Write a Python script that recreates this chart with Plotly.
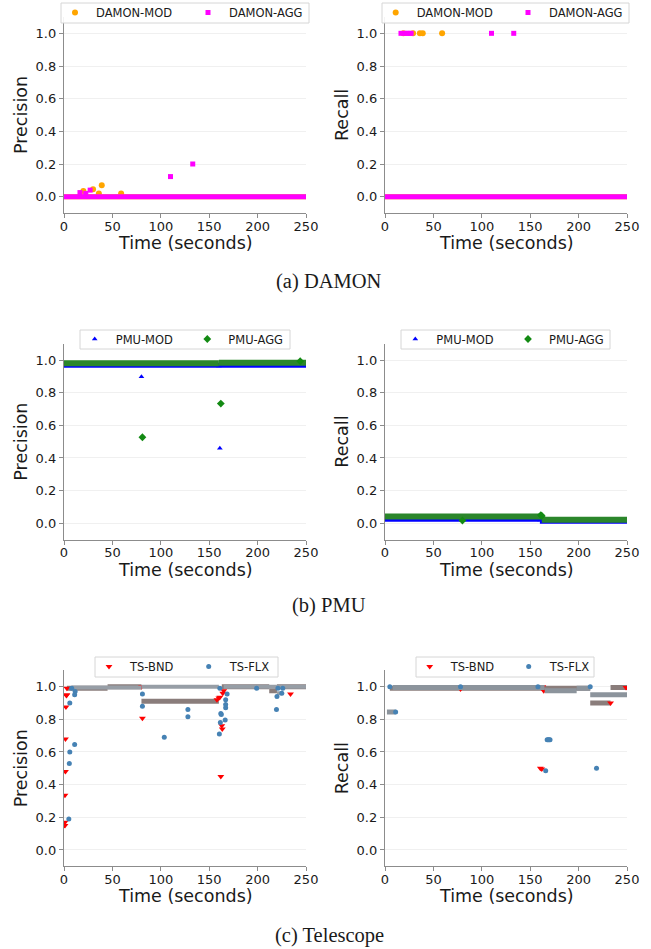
import plotly.graph_objects as go

# ---------------- DATA ----------------
# Dense runs are stored as (start, end, value) triples; isolated points as (t, v) lists.

# (a) DAMON - Precision
damon_mod_prec_run_start = [0]
damon_mod_prec_run_end = [250]
damon_mod_prec_run_val = [0.0]
damon_mod_prec_t = [20, 30, 36, 39, 59]
damon_mod_prec_v = [0.035, 0.045, 0.02, 0.07, 0.02]
damon_agg_prec_run_start = [0]
damon_agg_prec_run_end = [250]
damon_agg_prec_run_val = [0.0]
damon_agg_prec_t = [16.5, 22.5, 27, 110, 133]
damon_agg_prec_v = [0.025, 0.02, 0.04, 0.123, 0.2]

# (a) DAMON - Recall
damon_mod_rec_run_start = [0]
damon_mod_rec_run_end = [250]
damon_mod_rec_run_val = [0.0]
damon_mod_rec_t = [19, 29, 36, 39, 59]
damon_mod_rec_v = [1.0, 1.0, 1.0, 1.0, 1.0]
damon_agg_rec_run_start = [0]
damon_agg_rec_run_end = [250]
damon_agg_rec_run_val = [0.0]
damon_agg_rec_t = [16.5, 20, 22.5, 25, 27, 110, 133]
damon_agg_rec_v = [1.0, 1.0, 1.0, 1.0, 1.0, 1.0, 1.0]

# (b) PMU - Precision
pmu_mod_prec_run_start = [0]
pmu_mod_prec_run_end = [250]
pmu_mod_prec_run_val = [0.968]
pmu_mod_prec_t = [52, 80, 150, 160, 161, 249]
pmu_mod_prec_v = [0.965, 0.898, 0.965, 0.963, 0.459, 0.965]
pmu_agg_prec_run_start = [0, 160]
pmu_agg_prec_run_end = [160, 250]
pmu_agg_prec_run_val = [0.98, 0.984]
pmu_agg_prec_t = [81, 162, 244]
pmu_agg_prec_v = [0.527, 0.733, 0.993]

# (b) PMU - Recall
pmu_mod_rec_run_start = [0, 160]
pmu_mod_rec_run_end = [160, 250]
pmu_mod_rec_run_val = [0.025, 0.012]
pmu_mod_rec_t = [80, 160]
pmu_mod_rec_v = [0.015, 0.02]
pmu_agg_rec_run_start = [0, 162]
pmu_agg_rec_run_end = [162, 250]
pmu_agg_rec_run_val = [0.041, 0.021]
pmu_agg_rec_t = [80, 161, 162]
pmu_agg_rec_v = [0.017, 0.05, 0.045]

# (c) Telescope - Precision
ts_bnd_prec_run_start = [3, 45, 80, 163, 212, 220]
ts_bnd_prec_run_end = [45, 80, 160, 212, 220, 250]
ts_bnd_prec_run_val = [0.99, 1.0, 0.91, 1.0, 0.975, 1.0]
ts_bnd_prec_t = [1, 1, 1, 1.5, 1.5, 2, 2.5, 3, 3, 80, 81, 158, 160, 161, 162,
                 163, 163.5, 164, 165, 234]
ts_bnd_prec_v = [0.15, 0.17, 0.335, 0.48, 0.68, 0.875, 0.945, 0.95, 0.99, 1.0,
                 0.806, 0.92, 0.93, 0.935, 0.45, 0.76, 0.74, 0.96, 0.975, 0.955]
ts_flx_prec_run_start = [8, 80, 165, 220]
ts_flx_prec_run_end = [80, 160, 250, 226]
ts_flx_prec_run_val = [0.995, 1.0, 1.0, 0.96]
ts_flx_prec_t = [5, 5.5, 6, 6, 8, 11, 11, 11.5, 81, 81, 103.6, 128, 128, 161,
                 160.5, 161.5, 162, 162.5, 166.5, 167, 167, 167, 168.5, 199,
                 219.5, 220, 221, 225, 226]
ts_flx_prec_v = [0.19, 0.53, 0.60, 0.90, 0.99, 0.645, 0.95, 0.97, 0.88, 0.955,
                 0.69, 0.86, 0.815, 0.99, 0.71, 0.78, 0.835, 0.83, 0.795, 0.87,
                 0.89, 0.92, 0.955, 0.99, 0.86, 0.94, 0.99, 0.96, 0.99]

# (c) Telescope - Recall
ts_bnd_rec_run_start = [5, 212, 233]
ts_bnd_rec_run_end = [212, 233, 250]
ts_bnd_rec_run_val = [0.99, 0.90, 0.995]
ts_bnd_rec_t = [78, 160.5, 162, 163, 164, 233, 249]
ts_bnd_rec_v = [0.985, 0.50, 0.495, 1.0, 0.975, 0.90, 0.995]
ts_flx_rec_run_start = [2, 8, 165, 198, 212]
ts_flx_rec_run_end = [11, 165, 198, 212, 250]
ts_flx_rec_run_val = [0.845, 0.995, 0.975, 0.99, 0.95]
ts_flx_rec_t = [5, 11, 78, 158, 166, 167.5, 168.5, 169.5, 170.5, 212, 218.5]
ts_flx_rec_v = [1.0, 0.845, 1.0, 1.0, 0.485, 0.675, 0.675, 0.675, 0.675, 1.0, 0.50]

# Tick values / labels
x_ticks = [0, 50, 100, 150, 200, 250]
y_ticks = [0.0, 0.2, 0.4, 0.6, 0.8, 1.0]
captions = ["(a) DAMON", "(b) PMU", "(c) Telescope"]
x_title = "Time (seconds)"
y_titles = ["Precision", "Recall"]

# ---------------- FIGURE ----------------
W, H = 651, 949
fig = go.Figure()

FONT = "DejaVu Sans, Arial, sans-serif"
TXT = "#1a1a1a"


def runs_xy(starts, ends, vals):
    xs, ys = [], []
    for s, e, v in zip(starts, ends, vals):
        xs += [s, e, None]
        ys += [v, v, None]
    return xs, ys


def add_series(ax, leg, name, runs, pts, color, dense_color, symbol, size, run_w, legwidth):
    xr, yr = runs_xy(*runs)
    fig.add_trace(go.Scatter(x=xr, y=yr, mode="lines", xaxis="x" + ax, yaxis="y" + ax,
                             line=dict(color=dense_color, width=run_w),
                             showlegend=False, hoverinfo="skip", legendgroup=name + leg))
    fig.add_trace(go.Scatter(x=pts[0], y=pts[1], mode="markers", xaxis="x" + ax, yaxis="y" + ax,
                             name=name, legend=leg, legendgroup=name + leg, legendwidth=legwidth,
                             marker=dict(color=color, symbol=symbol, size=size,
                                         line=dict(color=color, width=0))))


A = ["", "2", "3", "4", "5", "6"]
L = ["legend", "legend2", "legend3", "legend4", "legend5", "legend6"]

ORANGE, MAGENTA = "#ffa500", "#ff00ff"
BLUE, GREEN = "#0000ff", "#138a13"
RED, STEEL = "#ff0000", "#4682b4"

# legend geometry (px): first marker x, second marker x, box left, box right, box top, box bottom
leg_geo = [(77, 210, 61, 309, 3, 23), (397.7, 530, 382, 629, 3, 23),
           (96.7, 209.3, 80, 290, 330, 349), (417.3, 530, 401, 610, 330, 349),
           (111, 210.7, 95, 278, 657, 677), (431.7, 530.7, 416, 594, 657, 677)]
ITEMW = 32
SYM_OFF = (ITEMW + 10) / 2 + 2
lw1 = [g[1] - g[0] - (ITEMW + 15) for g in leg_geo]

# panel 1
add_series(A[0], L[0], "DAMON-MOD", (damon_mod_prec_run_start, damon_mod_prec_run_end, damon_mod_prec_run_val),
           (damon_mod_prec_t, damon_mod_prec_v), ORANGE, ORANGE, "circle", 6, 5, lw1[0])
add_series(A[0], L[0], "DAMON-AGG", (damon_agg_prec_run_start, damon_agg_prec_run_end, damon_agg_prec_run_val),
           (damon_agg_prec_t, damon_agg_prec_v), MAGENTA, MAGENTA, "square", 5, 5, 85)
# panel 2
add_series(A[1], L[1], "DAMON-MOD", (damon_mod_rec_run_start, damon_mod_rec_run_end, damon_mod_rec_run_val),
           (damon_mod_rec_t, damon_mod_rec_v), ORANGE, ORANGE, "circle", 6, 5, lw1[1])
add_series(A[1], L[1], "DAMON-AGG", (damon_agg_rec_run_start, damon_agg_rec_run_end, damon_agg_rec_run_val),
           (damon_agg_rec_t, damon_agg_rec_v), MAGENTA, MAGENTA, "square", 5, 5, 85)
# panel 3
add_series(A[2], L[2], "PMU-MOD", (pmu_mod_prec_run_start, pmu_mod_prec_run_end, pmu_mod_prec_run_val),
           (pmu_mod_prec_t, pmu_mod_prec_v), BLUE, BLUE, "triangle-up", 5, 5, lw1[2])
add_series(A[2], L[2], "PMU-AGG", (pmu_agg_prec_run_start, pmu_agg_prec_run_end, pmu_agg_prec_run_val),
           (pmu_agg_prec_t, pmu_agg_prec_v), GREEN, "#2b862b", "diamond", 6, 6, 65)
# panel 4
add_series(A[3], L[3], "PMU-MOD", (pmu_mod_rec_run_start, pmu_mod_rec_run_end, pmu_mod_rec_run_val),
           (pmu_mod_rec_t, pmu_mod_rec_v), BLUE, BLUE, "triangle-up", 5, 5, lw1[3])
add_series(A[3], L[3], "PMU-AGG", (pmu_agg_rec_run_start, pmu_agg_rec_run_end, pmu_agg_rec_run_val),
           (pmu_agg_rec_t, pmu_agg_rec_v), GREEN, "#2b862b", "diamond", 6, 6, 65)
# panel 5
add_series(A[4], L[4], "TS-BND", (ts_bnd_prec_run_start, ts_bnd_prec_run_end, ts_bnd_prec_run_val),
           (ts_bnd_prec_t, ts_bnd_prec_v), RED, "#8a7d7b", "triangle-down", 6, 5, lw1[4])
add_series(A[4], L[4], "TS-FLX", (ts_flx_prec_run_start, ts_flx_prec_run_end, ts_flx_prec_run_val),
           (ts_flx_prec_t, ts_flx_prec_v), STEEL, "#979ea6", "circle", 5, 4, 50)
# panel 6
add_series(A[5], L[5], "TS-BND", (ts_bnd_rec_run_start, ts_bnd_rec_run_end, ts_bnd_rec_run_val),
           (ts_bnd_rec_t, ts_bnd_rec_v), RED, "#8a7d7b", "triangle-down", 6, 5, lw1[5])
add_series(A[5], L[5], "TS-FLX", (ts_flx_rec_run_start, ts_flx_rec_run_end, ts_flx_rec_run_val),
           (ts_flx_rec_t, ts_flx_rec_v), STEEL, "#8c949c", "circle", 5, 5, 50)

# layout geometry (pixels)
col_px = [(64, 306), (385, 627)]
row_px = [(17.0, 213.0), (343.7, 539.6), (670.3, 866.3)]
xtitle_y = [243, 569.6, 896.3]
ytitle_x = [21, 342]

SPINE = "#8c8c8c"
layout = dict(width=W, height=H, margin=dict(l=0, r=0, t=0, b=0, autoexpand=False),
              paper_bgcolor="white", plot_bgcolor="white",
              font=dict(family=FONT, color=TXT))

annotations = []
for i in range(6):
    r, c = divmod(i, 2)
    x0, x1 = col_px[c]
    y0, y1 = row_px[r]
    xd = [x0 / W, x1 / W]
    yd = [1 - y1 / H, 1 - y0 / H]
    layout["xaxis" + A[i]] = dict(
        domain=xd, anchor="y" + A[i], range=[0, 250], tickvals=x_ticks,
        showline=True, linecolor=SPINE, linewidth=1.3, ticks="outside", ticklen=4,
        tickcolor=SPINE, tickwidth=1, tickfont=dict(size=13, family=FONT, color=TXT),
        ticklabelstandoff=-3, showgrid=False, zeroline=False, automargin=False)
    layout["yaxis" + A[i]] = dict(
        domain=yd, anchor="x" + A[i], range=[-0.1, 1.1], tickvals=y_ticks, tickformat=".1f",
        showline=True, linecolor=SPINE, linewidth=1.3, ticks="outside", ticklen=4,
        tickcolor=SPINE, tickwidth=1, tickfont=dict(size=13, family=FONT, color=TXT),
        showgrid=True, gridcolor="#f0f0f0", gridwidth=1, zeroline=False, automargin=False)
    annotations.append(dict(text=x_title, x=(x0 + x1) / 2 / W, y=1 - xtitle_y[r] / H,
                            xref="paper", yref="paper", xanchor="center", yanchor="middle",
                            showarrow=False, font=dict(size=17.5, family=FONT, color=TXT)))
    annotations.append(dict(text=y_titles[c], x=ytitle_x[c] / W, y=1 - (y0 + y1) / 2 / H,
                            xref="paper", yref="paper", xanchor="center", yanchor="middle",
                            textangle=-90, showarrow=False,
                            font=dict(size=17.5, family=FONT, color=TXT)))

shapes = []
for i, (m1, m2, bl, br, bt, bb) in enumerate(leg_geo):
    shapes.append(dict(type="rect", xref="paper", yref="paper", layer="above",
                       x0=bl / W, x1=br / W, y0=1 - bb / H, y1=1 - bt / H,
                       fillcolor="rgba(255,255,255,0.9)", line=dict(color="#d6d6d6", width=1)))
    mid = (bt + bb) / 2
    layout[L[i]] = dict(
        x=(m1 - SYM_OFF) / W, y=1 - (mid - 15) / H, xanchor="left", yanchor="top",
        xref="paper", yref="paper", orientation="h", itemwidth=ITEMW,
        bgcolor="rgba(0,0,0,0)", borderwidth=0,
        font=dict(size=11.5, family=FONT, color=TXT), itemclick=False, itemdoubleclick=False)
layout["shapes"] = shapes

cap_y = [282, 605, 935]
for k in range(3):
    annotations.append(dict(text=captions[k], x=329 / W, y=1 - cap_y[k] / H, xref="paper", yref="paper",
                            xanchor="center", yanchor="middle", showarrow=False,
                            font=dict(size=20.5, family="Liberation Serif, Times New Roman, serif",
                                      color=TXT)))
layout["annotations"] = annotations

fig.update_layout(**layout)
fig.write_html("out.html", config={"displayModeBar": False},
               post_script="document.body.style.margin='0px';")
